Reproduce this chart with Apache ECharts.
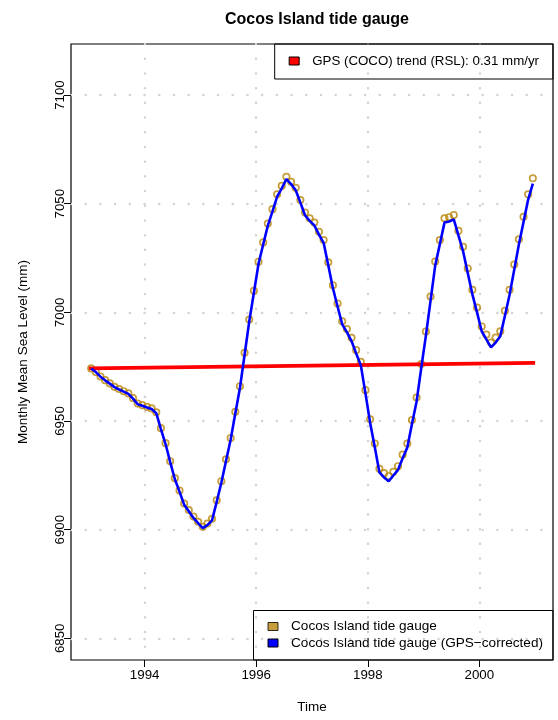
<!DOCTYPE html>
<html>
<head>
<meta charset="utf-8">
<script src="https://cdn.jsdelivr.net/npm/echarts@6/dist/echarts.min.js"></script>
<style>
  html, body { margin: 0; padding: 0; background: #fff; }
  #chart { width: 558px; height: 720px; }
</style>
</head>
<body>
<div id="chart"></div>
<script>
// Monthly means, Jan 1993 - Dec 2000 (plotted at mid-month)
const startYear = 1993;

const gaugeMM = [
  6974.2, 6972.5, 6970.5, 6968.8, 6967.3, 6965.7, 6964.7, 6963.7, 6962.7, 6960.5, 6958.0, 6957.3,
  6956.5, 6955.8, 6954.0, 6946.7, 6939.8, 6931.5, 6923.7, 6918.0, 6912.0, 6909.0, 6906.0, 6903.6,
  6901.3, 6902.8, 6905.0, 6913.5, 6922.3, 6932.4, 6942.2, 6954.2, 6966.0, 6981.4, 6996.7, 7009.9,
  7023.3, 7032.2, 7040.9, 7047.5, 7054.3, 7058.2, 7062.4, 7060.1, 7057.3, 7051.7, 7045.9, 7043.3,
  7041.3, 7037.1, 7033.3, 7023.0, 7012.5, 7004.1, 6995.9, 6992.3, 6988.3, 6982.6, 6977.2, 6964.2,
  6950.8, 6939.6, 6928.0, 6926.0, 6924.6, 6926.6, 6929.2, 6934.5, 6939.6, 6950.4, 6960.8, 6976.2,
  6991.2, 7007.3, 7023.4, 7033.3, 7043.3, 7043.8, 7044.8, 7037.5, 7030.2, 7020.2, 7010.4, 7002.2,
  6993.5, 6989.8, 6986.1, 6988.4, 6991.3, 7000.7, 7010.4, 7022.0, 7033.6, 7044.0, 7054.3, 7061.7
];

const correctedMM = [
  6974.2, 6972.5, 6970.4, 6968.7, 6967.2, 6965.6, 6964.5, 6963.5, 6962.5, 6960.3, 6957.7, 6957.0,
  6956.2, 6955.5, 6953.6, 6946.3, 6939.4, 6931.1, 6923.2, 6917.5, 6911.5, 6908.5, 6905.4, 6903.0,
  6900.7, 6902.1, 6904.3, 6912.8, 6921.6, 6931.6, 6941.4, 6953.4, 6965.2, 6980.5, 6995.8, 7009.0,
  7022.4, 7031.2, 7039.9, 7046.5, 7053.3, 7057.1, 7061.3, 7059.0, 7056.2, 7050.5, 7044.7, 7042.1,
  7040.0, 7035.8, 7032.0, 7021.7, 7011.1, 7002.7, 6994.5, 6990.9, 6986.8, 6981.1, 6975.7, 6962.7,
  6949.2, 6938.0, 6926.4, 6924.0, 6922.3, 6924.9, 6927.5, 6932.8, 6937.8, 6948.6, 6959.0, 6974.4,
  6989.3, 7005.4, 7021.5, 7031.4, 7041.3, 7041.8, 7042.8, 7035.4, 7028.1, 7018.1, 7008.3, 7000.0,
  6991.3, 6987.6, 6983.9, 6986.1, 6989.0, 6998.4, 7008.1, 7019.6, 7031.2, 7041.6, 7051.9, 7059.2
];

// GPS (COCO) relative sea level trend, end points
const trendYears = [1993, 2001];
const trendMM = [6974.2, 6976.7];

const xTicks = [1994, 1996, 1998, 2000];
const yTicks = [6850, 6900, 6950, 7000, 7050, 7100];

const NAME_GAUGE = 'Cocos Island tide gauge';
const NAME_CORR = 'Cocos Island tide gauge (GPS\u2212corrected)';
const NAME_TREND = 'GPS (COCO) trend (RSL): 0.31 mm/yr';

const GOLD = '#B8860B';
const FONT = "'Liberation Sans', Arial, Helvetica, sans-serif";

const monthTime = i => startYear + (i + 0.5) / 12;
const gaugeData = gaugeMM.map((v, i) => [monthTime(i), v]);
const corrData = correctedMM.map((v, i) => [monthTime(i), v]);
const trendData = trendYears.map((t, i) => [t, trendMM[i]]);

const dotted = { color: '#d3d3d3', width: 2.4, type: [0.1, 14.6], cap: 'round' };
const plain = v => String(v);

const chart = echarts.init(document.getElementById('chart'), null, { renderer: 'canvas' });

chart.setOption({
  animation: false,
  backgroundColor: '#fff',
  textStyle: { fontFamily: FONT },
  title: {
    text: 'Cocos Island tide gauge',
    left: 312, top: 7, textAlign: 'center',
    textStyle: { fontFamily: FONT, fontSize: 16, fontWeight: 'bold', color: '#000' }
  },
  grid: {
    left: 71, right: 5, top: 44, bottom: 60,
    show: true, borderColor: '#000', borderWidth: 1.2, backgroundColor: 'transparent'
  },
  xAxis: {
    type: 'value', min: 1992.68, max: 2001.32,
    name: 'Time', nameLocation: 'middle', nameGap: 40,
    nameTextStyle: { fontFamily: FONT, fontSize: 13.5, color: '#000' },
    axisLine: { show: false },
    axisTick: { show: true, inside: false, length: 7, customValues: xTicks, lineStyle: { color: '#000', width: 1 } },
    axisLabel: { customValues: xTicks, formatter: plain, margin: 9, fontFamily: FONT, fontSize: 13.3, color: '#000' },
    splitLine: { show: true, lineStyle: dotted }
  },
  yAxis: {
    type: 'value', min: 6840, max: 7123.5,
    name: 'Monthly Mean Sea Level (mm)', nameLocation: 'middle', nameGap: 41,
    nameTextStyle: { fontFamily: FONT, fontSize: 13.5, color: '#000' },
    axisLine: { show: false },
    axisTick: { show: true, inside: false, length: 7, customValues: yTicks, lineStyle: { color: '#000', width: 1 } },
    axisLabel: { customValues: yTicks, formatter: plain, rotate: 90, margin: 4, fontFamily: FONT, fontSize: 13.3, color: '#000' },
    splitLine: { show: true, lineStyle: dotted }
  },
  legend: [
    {
      data: [{ name: NAME_TREND, icon: 'rect', itemStyle: { color: '#FF0000' } }],
      right: 5, top: 44, orient: 'vertical',
      itemWidth: 10, itemHeight: 8,
      padding: [9, 14, 10, 14],
      borderColor: '#000', borderWidth: 1, borderRadius: 0,
      itemStyle: { borderColor: '#000', borderWidth: 1 },
      textStyle: { fontFamily: FONT, fontSize: 13.3, color: '#000', lineHeight: 16, padding: [0, 0, 0, 8] },
      selectedMode: false
    },
    {
      data: [
        { name: NAME_GAUGE, icon: 'rect', itemStyle: { color: GOLD } },
        { name: NAME_CORR, icon: 'rect', itemStyle: { color: '#0000FF' } }
      ],
      right: 5, bottom: 60, orient: 'vertical',
      itemWidth: 10, itemHeight: 8, itemGap: 0.5,
      padding: [8, 10, 9, 14],
      borderColor: '#000', borderWidth: 1, borderRadius: 0,
      itemStyle: { borderColor: '#000', borderWidth: 1 },
      textStyle: { fontFamily: FONT, fontSize: 13.6, color: '#000', lineHeight: 16, padding: [0, 0, 0, 8] },
      selectedMode: false
    }
  ],
  series: [
    {
      name: NAME_GAUGE, type: 'scatter', data: gaugeData, z: 2,
      symbol: 'circle', symbolSize: 6.4,
      itemStyle: { color: 'rgba(0,0,0,0)', borderColor: GOLD, borderWidth: 1.7 }
    },
    {
      name: NAME_TREND, type: 'line', data: trendData, z: 3,
      showSymbol: false, symbol: 'none',
      lineStyle: { color: '#FF0000', width: 3.8 }, itemStyle: { color: '#FF0000' }
    },
    {
      name: NAME_CORR, type: 'line', data: corrData, z: 4,
      showSymbol: false, symbol: 'none',
      lineStyle: { color: '#0000FF', width: 2.6 }, itemStyle: { color: '#0000FF' }
    }
  ]
});
</script>
</body>
</html>
